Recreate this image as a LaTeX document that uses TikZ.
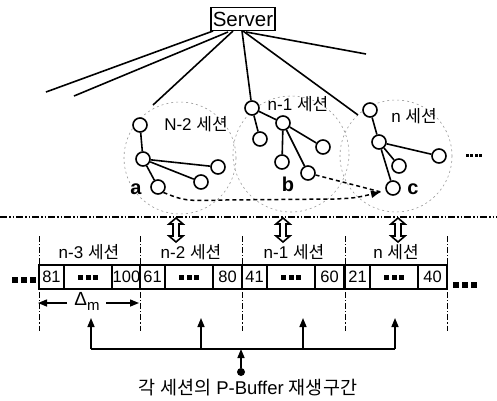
\documentclass[tikz,border=0pt]{standalone}
\usepackage{fontspec}
\setmainfont{Liberation Sans}
\newfontfamily\kr{Noto Sans CJK KR}
\usetikzlibrary{arrows.meta,calc}
\tikzset{
  cnode/.style={circle,draw,line width=1.6pt,minimum size=14pt,inner sep=0pt,fill=white},
  edge/.style={line width=1.6pt},
  zone/.style={draw=black!40,line width=0.6pt,dash pattern=on 2pt off 3pt},
  lbl/.style={font=\fontsize{17}{19}\selectfont,inner sep=0pt},
  tag/.style={font=\bfseries\fontsize{20}{21}\selectfont,inner sep=0pt},
  cell/.style={draw,line width=1.1pt,fill=white,minimum height=24pt,inner sep=0pt,
    font=\fontsize{16.5}{18}\selectfont},
  sep/.style={line width=1pt,dash pattern=on 6pt off 2pt on 1.2pt off 2pt},
  split/.style={line width=1.3pt,dash pattern=on 7pt off 2pt on 1.5pt off 2pt on 1.5pt off 2pt},
  hand/.style={line width=1.5pt,dash pattern=on 4pt off 3pt},
  up/.style={line width=1.5pt,-{Triangle[length=9pt,width=7pt]}},
  pics/blocks/.style args={#1/#2}{code={
    \foreach \k in {1,...,#2}{\fill ({(\k-(#2+1)/2)*#1*1.45},0) +(-#1/2,-#1/2) rectangle +(#1/2,#1/2);}
  }},
  % hollow up-down arrow, 24pt tall
  pics/swap/.style={code={
    \draw[line width=1.6pt,line join=miter,fill=white]
      (0,-12) -- (7,-6) -- (3,-6) -- (3,6) -- (7,6) -- (0,12) -- (-7,6) -- (-3,6)
      -- (-3,-6) -- (-7,-6) -- cycle;
  }},
}
\begin{document}
\begin{tikzpicture}[x=1pt,y=-1pt]
\useasboundingbox (0,0) rectangle (497,400);

% ---- server and its outgoing links
\node[draw,line width=1.1pt,minimum width=64pt,minimum height=23pt,inner sep=1pt,
      font=\fontsize{20.5}{21}\selectfont] (srv) at (243,19) {Server};
\coordinate (s1) at (213,31); \coordinate (e1) at (46,92);
\coordinate (s2) at (228,32); \coordinate (e2) at (74,96);
\coordinate (s3) at (233,31); \coordinate (e3) at (153,105);
\coordinate (s4) at (242,31);
\coordinate (s5) at (243,31); \coordinate (e5) at (358,115);
\coordinate (s6) at (246,32); \coordinate (e6) at (366,54);

% ---- session zones
\draw[zone] (180,158) circle (56);
\draw[zone] (291,154) circle (58);
\draw[zone] (396,156) circle (56);

% ---- session N-2
\node[cnode] (a1) at (140,125) {};
\node[cnode] (a2) at (143,159) {};
\node[cnode] (a3) at (218,167) {};
\node[cnode] (a4) at (201,182) {};
\node[cnode] (a5) at (158,187) {};
\node[lbl] at (196,124) {N-2 {\kr 세션}};
\node[tag] at (136,189) {a};
\draw[edge] (a1) -- (a2);
\draw[edge] (a2) -- (a3);
\draw[edge] (a2) -- (a4);
\draw[edge] (a2) -- (a5);

% ---- session n-1
\node[cnode] (b1) at (252,108) {};
\node[cnode] (b2) at (283,123) {};
\node[cnode] (b3) at (260,139) {};
\node[cnode] (b4) at (323,147) {};
\node[cnode] (b5) at (282,162) {};
\node[cnode] (b6) at (308,173) {};
\node[lbl] at (298,104) {n-1 {\kr 세션}};
\node[tag] at (288,184) {b};
\draw[edge] (b1) -- (b2);
\draw[edge] (b1) -- (b3);
\draw[edge] (b2) -- (b4);
\draw[edge] (b2) -- (b5);
\draw[edge] (b2) -- (b6);

% ---- session n
\node[cnode] (c1) at (370,110) {};
\node[cnode] (c2) at (379,142) {};
\node[cnode] (c3) at (439,156) {};
\node[cnode] (c4) at (399,166) {};
\node[cnode] (c5) at (393,188) {};
\node[lbl] at (414,116) {n {\kr 세션}};
\node[tag] at (413,189) {c};
\draw[edge] (c1) -- (c2);
\draw[edge] (c2) -- (c3);
\draw[edge] (c2) -- (c4);
\draw[edge] (c2) -- (c5);
\pic at (474,155) {blocks=3/4};

% links from the server
\draw[edge] (s1) -- (e1);
\draw[edge] (s2) -- (e2);
\draw[edge] (s3) -- (e3);
\draw[edge] (s4) -- (b1);
\draw[edge] (s5) -- (e5);
\draw[edge] (s6) -- (e6);

% ---- hand-over paths towards c
\coordinate (hit) at (381,192);
\draw[hand] (b6) -- (hit);
\draw[hand,-{Latex[length=10pt,width=8pt]}] (a5.south east) .. controls (185,201) .. (225,200)
   -- (335,199) .. controls (355,198) .. (hit);

% ---- boundary between overlay and buffers
\draw[split] (0,217) -- (497,217);
\pic at (176,230) {swap};
\pic at (283,230) {swap};
\pic at (398,230) {swap};

% ---- buffer segments
\foreach \x in {39,140,242,345,447} \draw[sep] (\x,236) -- (\x,331);
\node[lbl] at (89,252) {n-3 {\kr 세션}};
\node[lbl] at (191,252) {n-2 {\kr 세션}};
\node[lbl] at (294,252) {n-1 {\kr 세션}};
\node[lbl] at (396,252) {n {\kr 세션}};

\foreach \x/\l/\r in {39/81/100,140/61/80,242/41/60,345/21/40}{
  \node[cell,minimum width=25pt] at (\x+12.5,277) {\l};
  \node[cell,minimum width=48pt] (m\x) at (\x+49,277) {};
  \node[cell,minimum width=29pt] at (\x+87.5,277) {\r};
  \pic at (\x+49,277.5) {blocks=5/3};
}
\pic at (24,280) {blocks=6/3};
\pic at (465,285) {blocks=6/3};

% delta_m span
\coordinate (dl) at (38,303); \coordinate (dr) at (139,303);
\node[inner sep=0pt,font=\fontsize{19}{20}\selectfont] (dm) at (87,301)
  {Δ\raisebox{-5pt}{\fontsize{15}{15}\selectfont m}};
\coordinate (dml) at (67,303); \coordinate (dmr) at (106,303);
\draw[line width=1.4pt,-{Triangle[length=9pt,width=7pt]}] (dml) -- (dl);
\draw[line width=1.4pt,-{Triangle[length=9pt,width=7pt]}] (dmr) -- (dr);

% ---- playback interval pointers
\coordinate (p1) at (91,318); \coordinate (q1) at (91,349);
\coordinate (p2) at (201,318); \coordinate (q2) at (201,349);
\coordinate (p3) at (303,318); \coordinate (q3) at (303,349);
\coordinate (p4) at (395,318); \coordinate (q4) at (395,349);
\draw[line width=1.5pt] (q1) -- (q4);
\foreach \i in {1,...,4} \draw[up] (q\i) -- (p\i);
\node[circle,fill,inner sep=0pt,minimum size=8pt] (dot) at (241,372) {};
\coordinate (hub) at (241,349);
\draw[up] (dot) -- (hub);
\node[lbl,font=\fontsize{18.5}{20}\selectfont] at (248,388) {{\kr 각 세션의} P-Buffer {\kr 재생구간}};
\end{tikzpicture}
\end{document}
